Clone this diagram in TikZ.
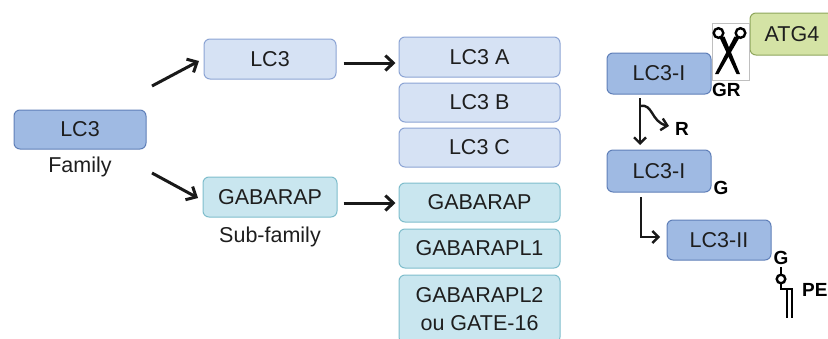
\documentclass[tikz,border=0pt]{standalone}
\usepackage{fontspec}
\setmainfont{Liberation Sans}
\usetikzlibrary{arrows.meta}
\definecolor{famfill}{HTML}{9FBAE3}
\definecolor{famdraw}{HTML}{5F7FB8}
\definecolor{lcfill}{HTML}{D6E2F4}
\definecolor{lcdraw}{HTML}{8CA4D4}
\definecolor{gabfill}{HTML}{C9E6EF}
\definecolor{gabdraw}{HTML}{7FBDCC}
\definecolor{atgfill}{HTML}{D4E3A5}
\definecolor{atgdraw}{HTML}{8EA65C}
\definecolor{txt}{HTML}{1E1E1E}
\tikzset{
  box/.style={rounded corners=6pt, line width=1pt, inner sep=0pt, align=center,
    text=txt, font=\fontsize{21.5}{28}\selectfont},
  dbox/.style={box, fill=famfill, draw=famdraw},
  lbox/.style={box, fill=lcfill, draw=lcdraw},
  gbox/.style={box, fill=gabfill, draw=gabdraw},
  abox/.style={box, fill=atgfill, draw=atgdraw},
  lab/.style={text=txt, font=\fontsize{21.5}{25}\selectfont, inner sep=0pt},
  blab/.style={text=black, font=\fontsize{19}{22}\selectfont\bfseries, inner sep=0pt},
  arr/.style={line width=3pt, draw=black!90, -{Straight Barb[length=8pt,width=15pt,line width=3pt]}},
  arrs/.style={line width=2.4pt, draw=black!90, -{Straight Barb[length=6pt,width=12pt,line width=2.4pt]}},
}
\begin{document}
\begin{tikzpicture}[x=1pt,y=-1pt]
\useasboundingbox (0,0) rectangle (828,338);
\clip (0,0) rectangle (828,338);
% left column
\node[dbox, minimum width=132pt, minimum height=39pt] (fam) at (80,129.5) {LC3};
\node[lab] (famt) at (80,167) {Family};
% sub-family column
\node[lbox, minimum width=132pt, minimum height=40pt] (lc3sub) at (270,59) {LC3};
\node[gbox, minimum width=134pt, minimum height=40pt] (gabsub) at (270,197) {GABARAP};
\node[lab] (subt) at (270,237) {Sub-family};
% members column
\node[lbox, minimum width=161pt, minimum height=40pt] (lc3a) at (479.5,57) {LC3 A};
\node[lbox, minimum width=161pt, minimum height=39pt] (lc3b) at (479.5,102.5) {LC3 B};
\node[lbox, minimum width=161pt, minimum height=39pt] (lc3c) at (479.5,147.5) {LC3 C};
\node[gbox, minimum width=161pt, minimum height=39pt] (gab) at (479.5,202.5) {GABARAP};
\node[gbox, minimum width=161pt, minimum height=39pt] (gabl1) at (479.5,248.5) {GABARAPL1};
\node[gbox, minimum width=161pt, minimum height=68pt] (gabl2) at (479.5,309) {GABARAPL2\\ou GATE-16};
% arrows left
\coordinate (a1s) at (152,86);
\coordinate (a1e) at (199,61);
\coordinate (a2s) at (152,173);
\coordinate (a2e) at (198,198);
\draw[arr] (a1s) -- (a1e);
\draw[arr] (a2s) -- (a2e);
\draw[arr] ([xshift=7pt,yshift=-4pt]lc3sub.east) -- ([xshift=-3pt,yshift=-4pt]lc3sub.east -| lc3a.west);
\draw[arr] ([xshift=6pt,yshift=-6pt]gabsub.east) -- ([xshift=-3pt,yshift=-6pt]gabsub.east -| gab.west);
% right part
\node[abox, minimum width=84pt, minimum height=42pt] (atg) at (792,34) {ATG4};
\node[draw=black!25, fill=white, line width=0.6pt, minimum width=37pt, minimum height=57pt, inner sep=0pt] (sc) at (730.5,51.5) {};
% scissors
\draw[line width=2.4pt, black] (718.5,33) circle (4.8pt);
\draw[line width=2.4pt, black] (740.5,33) circle (4.8pt);
\fill[black] (719.5,37.5) -- (724.5,36.5) -- (740,74) -- (736.5,74) -- cycle;
\fill[black] (739.5,37.5) -- (734.5,36.5) -- (715,74) -- (718.5,74) -- cycle;
\node[dbox, minimum width=104pt, minimum height=41pt] (lc3i1) at (659,73.5) {LC3-I};
\node[blab, anchor=west] (gr) at (712,90) {GR};
\node[dbox, minimum width=104pt, minimum height=42pt] (lc3i2) at (659,171) {LC3-I};
\node[blab] (g1) at (721,188) {G};
\node[dbox, minimum width=104pt, minimum height=40pt] (lc3ii) at (719,240) {LC3-II};
\node[blab] (g2) at (781,258) {G};
\node[blab, anchor=west] (pe) at (802,290) {PE};
\node[blab] (r) at (682,129) {R};
% processing arrows
\coordinate (d1s) at (640,98);
\coordinate (d1e) at (640,145);
\draw[arrs] (d1s) -- (d1e);
\coordinate (b1s) at (640,106);
\coordinate (b1e) at (669,126);
\draw[arrs] (b1s) .. controls (653,103) and (651,122) .. (b1e);
\coordinate (d2s) at (641,197);
\coordinate (d2c) at (641,237);
\coordinate (d2e) at (660,237);
\draw[arrs] (d2s) -- (d2c) -- (d2e);
% lipid
\draw[line width=2.4pt] (781,267) -- (781,274.5);
\draw[line width=2.4pt] (781,279) circle (4.3pt);
\draw[line width=2.4pt] (781,283.5) -- (781,289) -- (792.5,289);
\draw[line width=2pt] (786.5,288) -- (786.5,318);
\draw[line width=2pt] (791.5,288) -- (791.5,318);
\end{tikzpicture}
\end{document}
